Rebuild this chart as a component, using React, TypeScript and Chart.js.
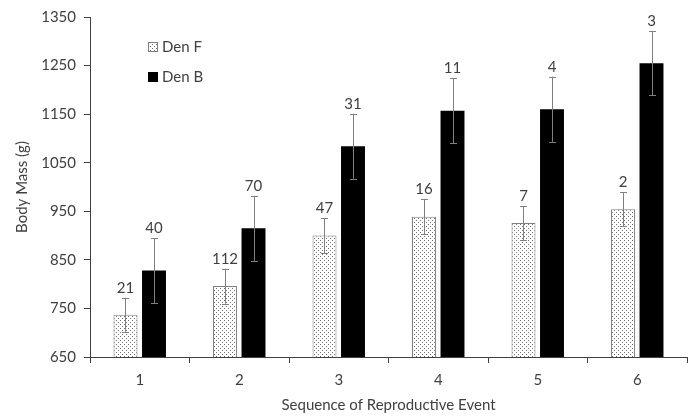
import React, { useEffect, useRef } from "react";
import { Chart, registerables } from "chart.js";

Chart.register(...registerables);

const categories = ["1", "2", "3", "4", "5", "6"];
const denF = [737, 796, 900, 939, 926, 954];
const denFErr = [35, 36, 36, 36, 35, 35];
const denFN = ["21", "112", "47", "16", "7", "2"];
const denB = [828, 915, 1084, 1157, 1160, 1255];
const denBErr = [67, 67, 67, 67, 67, 66];
const denBN = ["40", "70", "31", "11", "4", "3"];
const yTicks = [650, 750, 850, 950, 1050, 1150, 1250, 1350];

const FONT = "Lato, 'Open Sans', sans-serif";
const TEXT = "#404040";

function makePattern(): CanvasPattern | string {
  const c = document.createElement("canvas");
  c.width = 4;
  c.height = 4;
  const ctx = c.getContext("2d");
  if (!ctx) return "#ddd";
  ctx.fillStyle = "#ffffff";
  ctx.fillRect(0, 0, 4, 4);
  ctx.fillStyle = "#6f6f6f";
  ctx.fillRect(0, 0, 1, 1);
  ctx.fillRect(2, 2, 1, 1);
  const p = ctx.createPattern(c, "repeat");
  return p || "#ddd";
}

export default function App() {
  const ref = useRef<HTMLCanvasElement | null>(null);

  useEffect(() => {
    if (!ref.current) return;
    const pattern = makePattern();
    const errs = [denFErr, denBErr];
    const ns = [denFN, denBN];

    const errorPlugin = {
      id: "errbars",
      afterDatasetsDraw(chart: any) {
        const ctx = chart.ctx;
        const y = chart.scales.y;
        ctx.save();
        chart.data.datasets.forEach((ds: any, di: number) => {
          const meta = chart.getDatasetMeta(di);
          meta.data.forEach((bar: any, i: number) => {
            const v = ds.data[i];
            const e = errs[di][i];
            const x = Math.round(bar.x) + 0.5;
            const top = y.getPixelForValue(v + e);
            const bot = y.getPixelForValue(v - e);
            ctx.strokeStyle = "#808080";
            ctx.lineWidth = 1;
            ctx.beginPath();
            ctx.moveTo(x, top);
            ctx.lineTo(x, bot);
            ctx.moveTo(x - 3.5, Math.round(top) + 0.5);
            ctx.lineTo(x + 3.5, Math.round(top) + 0.5);
            ctx.moveTo(x - 3.5, Math.round(bot) + 0.5);
            ctx.lineTo(x + 3.5, Math.round(bot) + 0.5);
            ctx.stroke();
            ctx.fillStyle = TEXT;
            ctx.font = `15px ${FONT}`;
            ctx.textAlign = "center";
            ctx.textBaseline = "alphabetic";
            ctx.fillText(ns[di][i], bar.x, top - 5);
          });
        });
        ctx.restore();
      },
    };

    const legendPlugin = {
      id: "customLegend",
      afterDraw(chart: any) {
        const ctx = chart.ctx;
        ctx.save();
        chart.data.datasets.forEach((ds: any, di: number) => {
          const bx = 148;
          const by = 42 + di * 30;
          ctx.fillStyle = ds.backgroundColor;
          ctx.fillRect(bx, by, 9, 9);
          ctx.strokeStyle = ds.borderColor;
          ctx.lineWidth = 1;
          ctx.strokeRect(bx + 0.5, by + 0.5, 9, 9);
          ctx.fillStyle = TEXT;
          ctx.font = `15px ${FONT}`;
          ctx.textAlign = "left";
          ctx.textBaseline = "middle";
          ctx.fillText(ds.label, 162, by + 5);
        });
        ctx.restore();
      },
    };

    const chart = new Chart(ref.current, {
      type: "bar",
      data: {
        labels: categories,
        datasets: [
          {
            label: "Den F",
            data: denF,
            backgroundColor: pattern as any,
            borderColor: "#7f7f7f",
            borderWidth: 1,
            categoryPercentage: 0.573,
            barPercentage: 0.84,
          },
          {
            label: "Den B",
            data: denB,
            backgroundColor: "#000000",
            borderColor: "#000000",
            borderWidth: 0,
            categoryPercentage: 0.573,
            barPercentage: 0.84,
          },
        ],
      },
      options: {
        responsive: false,
        animation: false,
        layout: { padding: { top: 12, right: 12, left: 0, bottom: 0 } },
        plugins: {
          legend: { display: false },
          tooltip: { enabled: false },
        },
        scales: {
          x: {
            grid: {
              display: true,
              drawOnChartArea: false,
              drawTicks: true,
              tickLength: 6,
              color: "#404040",
              offset: true,
            },
            border: { color: "#404040", width: 1 },
            ticks: {
              color: TEXT,
              font: { family: FONT, size: 15 },
              padding: 8,
            },
            title: {
              display: true,
              text: "Sequence of Reproductive Event",
              color: TEXT,
              font: { family: FONT, size: 15 },
              padding: { top: 0, bottom: 3 },
            },
            afterFit(scale: any) {
              scale.height = 60;
            },
          },
          y: {
            min: 650,
            max: 1350,
            afterBuildTicks(scale: any) {
              scale.ticks = yTicks.map((v) => ({ value: v }));
            },
            grid: {
              display: true,
              drawOnChartArea: false,
              drawTicks: true,
              tickLength: 6,
              color: "#404040",
            },
            border: { color: "#404040", width: 1 },
            ticks: {
              color: TEXT,
              font: { family: FONT, size: 15 },
              padding: 8,
              callback: (v: any) => String(v),
            },
            title: {
              display: true,
              text: "Body Mass (g)",
              color: TEXT,
              font: { family: FONT, size: 15 },
              padding: { top: 13, bottom: 0 },
            },
            afterFit(scale: any) {
              scale.width = 90;
            },
          },
        },
      },
      plugins: [errorPlugin, legendPlugin],
    });
    return () => chart.destroy();
  }, []);

  return (
    <div style={{ position: "fixed", left: 0, top: 0, width: 699, height: 417, background: "#fff" }}>
      <canvas ref={ref} width={699} height={417} style={{ display: "block" }} />
    </div>
  );
}
